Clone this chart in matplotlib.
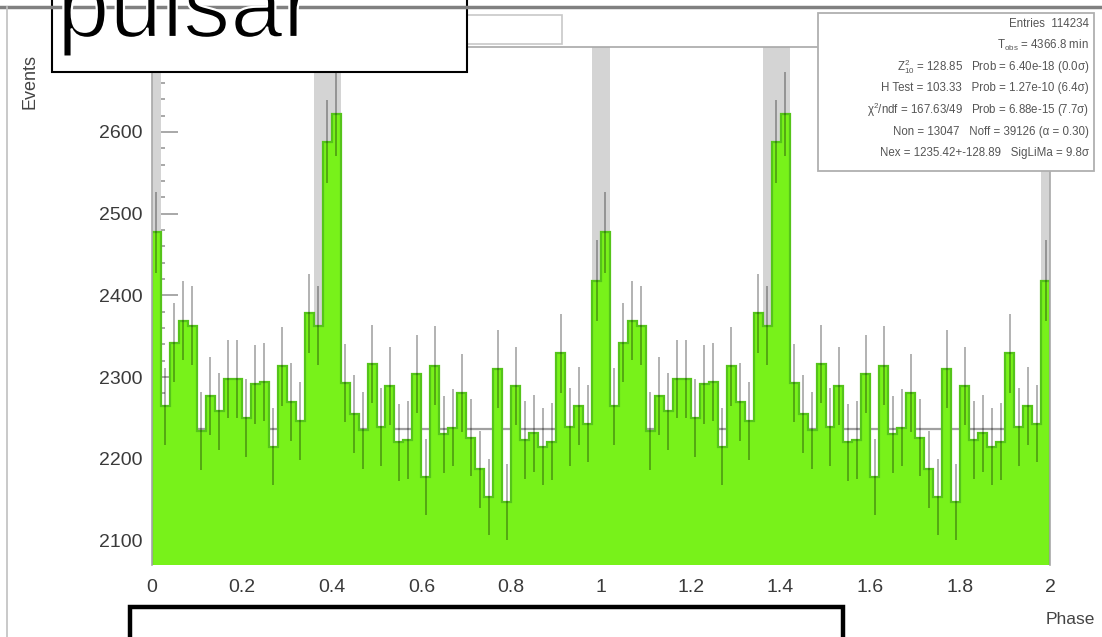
import numpy as np
import matplotlib
matplotlib.use("Agg")
import matplotlib.pyplot as plt
import matplotlib.patheffects as pe
from matplotlib.patches import Rectangle
from matplotlib.lines import Line2D
from matplotlib.ticker import MultipleLocator, FuncFormatter

plt.rcParams["font.family"] = ["Liberation Sans", "DejaVu Sans"]
plt.rcParams["mathtext.fontset"] = "custom"
plt.rcParams["mathtext.rm"] = "Liberation Sans"
plt.rcParams["mathtext.it"] = "Liberation Sans:italic"

# Phasogram, one cycle (50 bins of 0.02), drawn twice as ROOT does
counts_cycle = [2477, 2264, 2342, 2369, 2363, 2234, 2277, 2258, 2298, 2298,
                2250, 2291, 2294, 2215, 2313, 2269, 2246, 2378, 2363, 2588,
                2622, 2293, 2255, 2235, 2316, 2239, 2289, 2220, 2223, 2304,
                2178, 2314, 2230, 2238, 2280, 2226, 2187, 2153, 2310, 2147,
                2289, 2223, 2231, 2215, 2221, 2329, 2239, 2265, 2243, 2418]
n_cycles = 2
bin_width = 0.02
background = 2236

# on-pulse regions (gray bands)
on_lo = [0.0, 0.36, 0.98, 1.36, 1.98]
on_hi = [0.02, 0.42, 1.02, 1.42, 2.0]

stats_lines = [
    "Entries  114234",
    r"T$_{\rm obs}$ = 4366.8 min",
    r"Z$^{2}_{10}$ = 128.85   Prob = 6.40e-18 (0.0σ)",
    "H Test = 103.33   Prob = 1.27e-10 (6.4σ)",
    r"χ$^{2}$/ndf = 167.63/49   Prob = 6.88e-15 (7.7σ)",
    "Non = 13047   Noff = 39126 (α = 0.30)",
    "Nex = 1235.42+-128.89   SigLiMa = 9.8σ",
]

counts = np.array(counts_cycle * n_cycles, dtype=float)
edges = np.arange(len(counts) + 1) * bin_width
centers = 0.5 * (edges[:-1] + edges[1:])
errors = np.sqrt(counts)

W, H = 1102, 637


def fx(px):
    return px / W


def fy(py):
    return 1 - py / H


fig = plt.figure(figsize=(W / 100, H / 100), dpi=100)
ax = fig.add_axes([fx(152), fy(565), fx(1050) - fx(152), fy(47) - fy(565)])

for lo, hi in zip(on_lo, on_hi):
    ax.axvspan(lo, hi, color="#d4d4d4", lw=0, zorder=0.8)
ax.axhline(background, color="#a0a0a0", lw=1.6, zorder=0.9)

ax.stairs(counts, edges, fill=True, color="#78f21a", zorder=2)
ax.stairs(counts, edges, color="#55c41a", lw=1.6, zorder=2.1)
ax.errorbar(centers, counts, yerr=errors, fmt="none", ecolor="black",
            alpha=0.3, elinewidth=1.4, capsize=0, zorder=3)

ax.set_xlim(0, 2)
ax.set_ylim(2070, 2704)
ax.set_axisbelow(True)

ax.xaxis.set_major_locator(MultipleLocator(0.2))
ax.xaxis.set_major_formatter(FuncFormatter(lambda v, p: "%g" % round(v, 2)))
ax.yaxis.set_major_locator(MultipleLocator(100))
ax.yaxis.set_minor_locator(MultipleLocator(20))
ax.tick_params(axis="y", which="major", direction="in", length=19, width=1.2,
               color="#9a9a9a", labelsize=14, labelcolor="#3a3a3a", pad=7)
ax.tick_params(axis="y", which="minor", direction="in", length=9, width=1.2,
               color="#9a9a9a")
ax.tick_params(axis="x", which="major", direction="in", length=0,
               labelsize=14, labelcolor="#3a3a3a", pad=10)

for side in ["left", "top", "right"]:
    ax.spines[side].set_color("#a8a8a8")
    ax.spines[side].set_linewidth(1.2)
ax.spines["bottom"].set_visible(False)

# axis titles
fig.text(fx(1095), fy(620), "Phase", ha="right", va="center",
         fontsize=12.5, color="#444444")
fig.text(fx(30), fy(54), "Events", ha="center", va="top", rotation=90,
         fontsize=13, color="#444444")

# pad frame
fig.add_artist(Line2D([0, 1], [fy(7), fy(7)], transform=fig.transFigure,
                      color="#808080", lw=2.5))
fig.add_artist(Line2D([fx(7), fx(7)], [fy(7), 0], transform=fig.transFigure,
                      color="#c0c0c0", lw=1.2))

# ROOT title box (empty)
fig.add_artist(Rectangle((fx(400), fy(44)), fx(562) - fx(400), fy(15) - fy(44),
                         transform=fig.transFigure, facecolor="white",
                         edgecolor="#c8c8c8", lw=1.2))

# stats box
fig.add_artist(Rectangle((fx(818), fy(171)), fx(1094) - fx(818), fy(13) - fy(171),
                         transform=fig.transFigure, facecolor="white",
                         edgecolor="#b0b0b0", lw=1.3))
for i, line in enumerate(stats_lines):
    fig.text(fx(1089), fy(24 + 21.5 * i), line, ha="right", va="center",
             fontsize=8.3, color="#555555")

# overlay boxes
fig.add_artist(Rectangle((fx(52), fy(72)), fx(467) - fx(52), fy(-10) - fy(72),
                         transform=fig.transFigure, facecolor="white",
                         edgecolor="black", lw=1.5))
# thin the glyphs a little with a white outline (reference font is lighter)
fig.text(fx(57), fy(37), "pulsar", ha="left", va="baseline", fontsize=68,
         color="black",
         path_effects=[pe.Normal(), pe.Stroke(linewidth=1.6, foreground="white")])

fig.add_artist(Rectangle((fx(130), fy(660)), fx(843) - fx(130), fy(607) - fy(660),
                         transform=fig.transFigure, facecolor="white",
                         edgecolor="black", lw=3.2))

fig.savefig("out.png", dpi=100)
